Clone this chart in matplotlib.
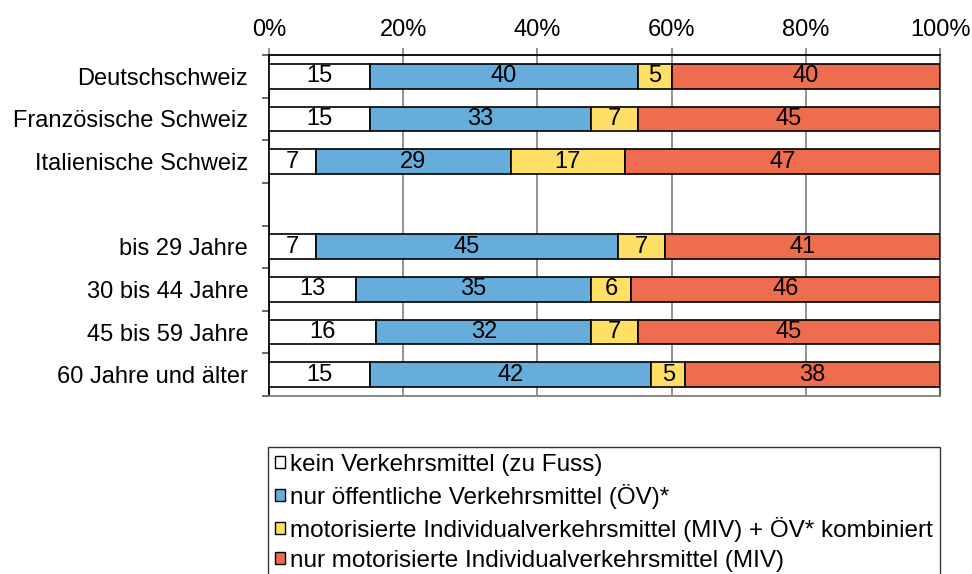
import matplotlib
matplotlib.use("Agg")
import matplotlib.pyplot as plt
from matplotlib.patches import Patch
import numpy as np

plt.rcParams['font.family'] = ['Liberation Sans', 'DejaVu Sans']

categories = ["Deutschschweiz", "Französische Schweiz", "Italienische Schweiz", "",
              "bis 29 Jahre", "30 bis 44 Jahre", "45 bis 59 Jahre", "60 Jahre und älter"]
kein = [15, 15, 7, None, 7, 13, 16, 15]
oev = [40, 33, 29, None, 45, 35, 32, 42]
kombiniert = [5, 7, 17, None, 7, 6, 7, 5]
miv = [40, 45, 47, None, 41, 46, 45, 38]
series_labels = ["kein Verkehrsmittel (zu Fuss)",
                 "nur öffentliche Verkehrsmittel (ÖV)*",
                 "motorisierte Individualverkehrsmittel (MIV) + ÖV* kombiniert",
                 "nur motorisierte Individualverkehrsmittel (MIV)"]
xtick_labels = ["0%", "20%", "40%", "60%", "80%", "100%"]

colors = ["#FFFFFF", "#67ADDB", "#FFDF66", "#EE6D4E"]
FS = 17

fig = plt.figure(figsize=(9.72, 5.74), dpi=100)
ax = fig.add_axes([269/972, 1-396/574, (940-269)/972, (396-55)/574])

series = [kein, oev, kombiniert, miv]
ypos = np.arange(len(categories))
left = np.zeros(len(categories))
for vals, col in zip(series, colors):
    for i, v in enumerate(vals):
        if v is None:
            continue
        ax.barh(ypos[i], v, left=left[i], height=0.58, color=col,
                edgecolor='black', linewidth=1.2, zorder=3)
        ax.text(left[i] + v/2, ypos[i], str(v), ha='center', va='center',
                fontsize=FS, color='black', zorder=4)
        left[i] += v

ax.set_xlim(0, 100)
ax.set_ylim(len(categories) - 0.5, -0.5)
ax.xaxis.tick_top()
ax.set_xticks([0, 20, 40, 60, 80, 100])
ax.set_xticklabels(xtick_labels, fontsize=FS)
ax.tick_params(axis='x', length=5, color='#808080', width=1.2, pad=5)
ax.grid(axis='x', color='#808080', linewidth=1.2, zorder=0)

ax.set_yticks(ypos)
ax.set_yticklabels(categories, fontsize=FS)
ax.set_yticks(np.arange(-0.5, len(categories), 1), minor=True)
ax.tick_params(axis='y', which='major', length=0, pad=15)
ax.tick_params(axis='y', which='minor', length=5, color='#505050', width=1.2)

ax.spines['top'].set_color('black')
ax.spines['top'].set_linewidth(1.3)
ax.spines['left'].set_color('black')
ax.spines['left'].set_linewidth(1.3)
ax.spines['bottom'].set_color('#808080')
ax.spines['bottom'].set_linewidth(1.3)
ax.spines['right'].set_color('#606060')
ax.spines['right'].set_linewidth(1.5)

handles = [Patch(facecolor=c, edgecolor='black', linewidth=1.0) for c in colors]
fig.legend(handles, series_labels, loc='upper left', mode='expand',
           bbox_to_anchor=(268/972, 1-447/574, (940-268)/972, 0.0),
           fontsize=17.5, frameon=True, fancybox=False, edgecolor='black',
           handlelength=0.42, handleheight=0.42, handletextpad=0.2,
           labelspacing=0.33, borderpad=0.28, borderaxespad=0.0)

fig.savefig("out.png", dpi=100)
